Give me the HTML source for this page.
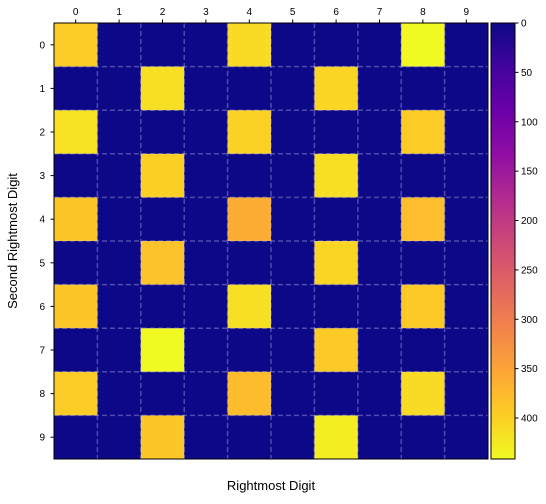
<!DOCTYPE html>
<html><head><meta charset="utf-8"><style>
body{margin:0;background:#fff;}
svg text{font-family:"Liberation Sans",sans-serif;fill:#000;}
</style></head><body>
<svg id="chart" width="546" height="499">
<defs><linearGradient id="cbgrad" x1="0" y1="0" x2="0" y2="1"></linearGradient></defs>
<g id="cells"></g><g id="grid"></g><g id="axes"></g>
</svg>
<script>
const rowLabels=["0","1","2","3","4","5","6","7","8","9"];
const colLabels=["0","1","2","3","4","5","6","7","8","9"];
const values=[
[395,0,0,0,410,0,0,0,441,0],
[0,0,415,0,0,0,405,0,0,0],
[418,0,0,0,400,0,0,0,395,0],
[0,0,398,0,0,0,415,0,0,0],
[388,0,0,0,360,0,0,0,380,0],
[0,0,385,0,0,0,405,0,0,0],
[388,0,0,0,415,0,0,0,392,0],
[0,0,441,0,0,0,393,0,0,0],
[395,0,0,0,378,0,0,0,410,0],
[0,0,388,0,0,0,430,0,0,0]];
const cbTicks=[0,50,100,150,200,250,300,350,400];
const vmin=0,vmax=441.5;
const stops=["#0d0887","#41049d","#6a00a8","#8f0da4","#b12a90","#cc4778","#e16462","#f2844b","#fca636","#fcce25","#f0f921"];
function hex(h){return [1,3,5].map(i=>parseInt(h.substr(i,2),16));}
function plasma(t){t=Math.max(0,Math.min(1,t));const p=t*10,i=Math.min(9,Math.floor(p)),f=p-i;const a=hex(stops[i]),b=hex(stops[i+1]);return "rgb("+a.map((v,k)=>Math.round(v+(b[k]-v)*f)).join(",")+")";}
const color=v=>plasma((v-vmin)/(vmax-vmin));
const X0=54,X1=488,Y0=23,Y1=459;
const cw=(X1-X0)/colLabels.length,ch=(Y1-Y0)/rowLabels.length;
const xs=j=>X0+j*cw, ys=i=>Y0+i*ch;
const NS="http://www.w3.org/2000/svg";
function el(t,a,p){const e=document.createElementNS(NS,t);for(const k in a)e.setAttribute(k,a[k]);p.appendChild(e);return e;}
const cells=document.getElementById('cells'),grid=document.getElementById('grid'),axes=document.getElementById('axes');
values.forEach((row,i)=>row.forEach((v,j)=>{
 const r=el('rect',{x:xs(j),y:ys(i),width:cw+0.3,height:ch+0.3,fill:color(v)},cells);
 
 
}));
for(let k=1;k<colLabels.length;k++){
 const l=el('line',{x1:xs(k),x2:xs(k),y1:Y0,y2:Y1,stroke:"rgba(200,200,255,0.35)","stroke-width":1.5,"stroke-dasharray":"5,3"},grid);
 
 
}
for(let k=1;k<rowLabels.length;k++){
 const l=el('line',{x1:X0,x2:X1,y1:ys(k),y2:ys(k),stroke:"rgba(200,200,255,0.35)","stroke-width":1.5,"stroke-dasharray":"5,3"},grid);
 
 
}
const fr=el('rect',{x:X0,y:Y0,width:X1-X0,height:Y1-Y0,fill:"none",stroke:"#000","stroke-width":1},axes);


colLabels.forEach((c,j)=>{
 const cx=xs(j)+cw/2;
 el('line',{x1:cx,x2:cx,y1:Y0,y2:Y0-3.5,stroke:"#000"},axes);
 const t=el('text',{x:cx,y:15,"text-anchor":"middle","font-size":10},axes);t.textContent=c;
 
 
});
rowLabels.forEach((c,i)=>{
 const cy=ys(i)+ch/2;
 el('line',{x1:X0,x2:X0-3.5,y1:cy,y2:cy,stroke:"#000"},axes);
 const t=el('text',{x:45,y:cy+3.5,"text-anchor":"end","font-size":10},axes);t.textContent=c;
 
 
});
const g=document.getElementById('cbgrad');
for(let k=0;k<=20;k++){el('stop',{offset:k/20,"stop-color":plasma(k/20)},g);}
const CB0=491,CB1=515;
const cb=el('rect',{x:CB0,y:Y0,width:CB1-CB0,height:Y1-Y0,fill:"url(#cbgrad)",stroke:"#000","stroke-width":1},axes);


const cby=v=>Y0+(v-vmin)/(vmax-vmin)*(Y1-Y0);
cbTicks.forEach(v=>{
 const y=cby(v);
 el('line',{x1:CB1,x2:CB1+3.5,y1:y,y2:y,stroke:"#000"},axes);
 const t=el('text',{x:CB1+6,y:y+3.5,"font-size":10},axes);t.textContent=v;
 
 
});
</script>
<svg style="position:absolute;left:0;top:0" width="546" height="499">
<text x="271" y="490" text-anchor="middle" font-size="13" font-family="Liberation Sans,sans-serif">Rightmost Digit</text>
<text transform="translate(17,241) rotate(-90)" text-anchor="middle" font-size="13" font-family="Liberation Sans,sans-serif">Second Rightmost Digit</text>
</svg>
</body></html>
